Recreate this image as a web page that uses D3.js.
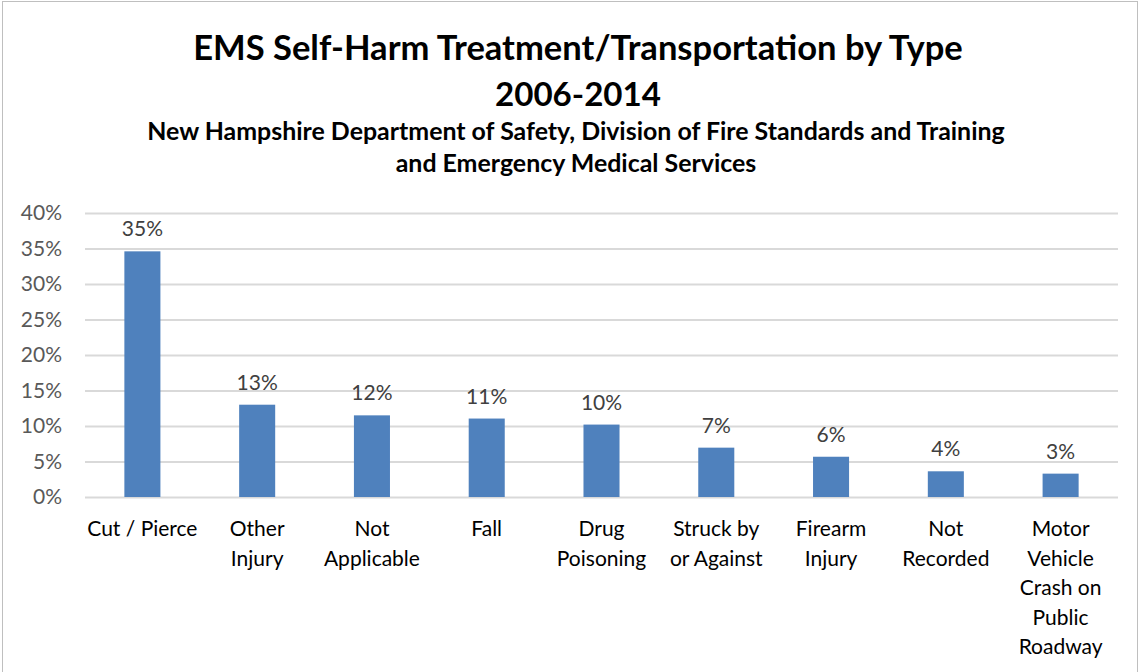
<!DOCTYPE html>
<html><head><meta charset="utf-8">
<script src="https://cdn.jsdelivr.net/npm/d3@7"></script>
<style>body{margin:0;background:#fff}svg{display:block}</style>
</head><body>
<svg id="c" width="1140" height="672"></svg>
<script>
const categories = ["Cut / Pierce","Other Injury","Not Applicable","Fall","Drug Poisoning","Struck by or Against","Firearm Injury","Not Recorded","Motor Vehicle Crash on Public Roadway"];
const categoryLines = [["Cut / Pierce"],["Other","Injury"],["Not","Applicable"],["Fall"],["Drug","Poisoning"],["Struck by","or Against"],["Firearm","Injury"],["Not","Recorded"],["Motor","Vehicle","Crash on","Public","Roadway"]];
const values = [0.346, 0.130, 0.115, 0.1105, 0.102, 0.0695, 0.0567, 0.0362, 0.0329];
const yTicks = [0,0.05,0.10,0.15,0.20,0.25,0.30,0.35,0.40];
const titleLines = ["EMS Self-Harm Treatment/Transportation by Type","2006-2014"];
const subtitleLines = ["New Hampshire Department of Safety, Division of Fire Standards and Training","and Emergency Medical Services"];

const font = "Lato, 'Open Sans', 'Liberation Sans', sans-serif";
const svg = d3.select("#c");
const W = 1140, H = 672;
svg.append("rect").attr("x",2.5).attr("y",1.5).attr("width",W-5).attr("height",H+10)
  .attr("fill","#fff").attr("stroke","#bfbfbf").attr("stroke-width",1);

const m = {left:85, right:1118, top:213, bottom:497};
const x = d3.scaleBand().domain(categories).range([m.left,m.right]).paddingInner(0.686).paddingOuter(0.343);
const y = d3.scaleLinear().domain([0,0.4]).range([m.bottom,m.top]);

function fit(sel, target){
  sel.each(function(){
    const w = this.getComputedTextLength();
    const fs = parseFloat(d3.select(this).attr("font-size"));
    d3.select(this).attr("font-size", fs*target/w);
  });
}

// titles
const t1 = svg.append("text").attr("x",578).attr("y",60).attr("text-anchor","middle")
  .attr("font-family",font).attr("font-weight","bold").attr("font-size",30).attr("fill","#000").text(titleLines[0]);
fit(t1,770);
const t2 = svg.append("text").attr("x",578).attr("y",106).attr("text-anchor","middle")
  .attr("font-family",font).attr("font-weight","bold").attr("font-size",30).attr("fill","#000").text(titleLines[1]);
fit(t2,166);
const s1 = svg.append("text").attr("x",576).attr("y",140).attr("text-anchor","middle")
  .attr("font-family",font).attr("font-weight","bold").attr("font-size",20).attr("fill","#000").text(subtitleLines[0]);
fit(s1,858);
const s2 = svg.append("text").attr("x",576).attr("y",172).attr("text-anchor","middle")
  .attr("font-family",font).attr("font-weight","bold").attr("font-size",20).attr("fill","#000").text(subtitleLines[1]);
s2.attr("font-size", s1.attr("font-size"));

// gridlines
const yAxis = d3.axisLeft(y).tickValues(yTicks).tickFormat(d3.format(".0%")).tickSize(-(m.right-m.left)).tickPadding(23);
const ga = svg.append("g").attr("transform",`translate(${m.left},0)`).call(yAxis);
ga.select(".domain").remove();
ga.selectAll(".tick line").attr("stroke","#d9d9d9").attr("stroke-width",2);
ga.selectAll(".tick text").attr("font-family",font).attr("font-size",21).attr("fill","#595959");

// bars
svg.append("g").selectAll("rect").data(values).join("rect")
  .attr("x",(d,i)=>x(categories[i])).attr("width",x.bandwidth())
  .attr("y",d=>y(d)).attr("height",d=>y(0)-y(d)).attr("fill","#4f81bd");

// labels
svg.append("g").selectAll("text").data(values).join("text")
  .attr("x",(d,i)=>x(categories[i])+x.bandwidth()/2).attr("y",d=>y(d)-15)
  .attr("text-anchor","middle").attr("font-family",font).attr("font-size",21).attr("fill","#404040")
  .text(d=>d3.format(".0%")(d));

// category labels
const cg = svg.append("g");
categoryLines.forEach((lines,i)=>{
  const t = cg.append("text").attr("text-anchor","middle").attr("font-family",font).attr("font-size",21).attr("fill","#000");
  lines.forEach((l,j)=>{
    t.append("tspan").attr("x",x(categories[i])+x.bandwidth()/2).attr("y",536+j*29.5).text(l);
  });
});
</script>
</body></html>
